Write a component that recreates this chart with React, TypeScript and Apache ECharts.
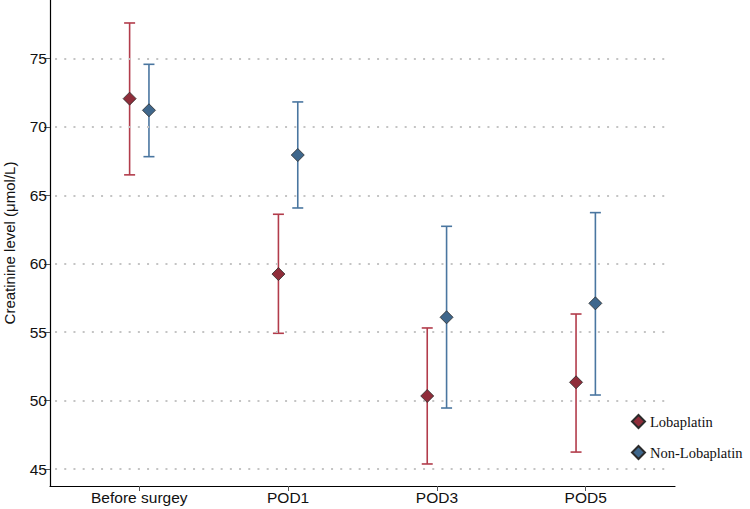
import React, { useEffect, useRef } from "react";
import * as echarts from "echarts";

const categories = ["Before surgey", "POD1", "POD3", "POD5"];
const lobMean = [72.07, 59.25, 50.34, 51.34];
const lobUpper = [77.6, 63.62, 55.31, 56.33];
const lobLower = [66.5, 54.92, 45.37, 46.24];
const nonMean = [71.22, 67.95, 56.09, 57.11];
const nonUpper = [74.58, 71.83, 62.74, 63.74];
const nonLower = [67.83, 64.08, 49.46, 50.41];
const yTicks = [45, 50, 55, 60, 65, 70, 75];

const OFFSET = 0.065;
const RED_LINE = "#b23c4b";
const RED_FILL = "#8f2d3a";
const BLUE_LINE = "#4a76a0";
const BLUE_FILL = "#3f678c";

function errorSeries(name: string, lower: number[], upper: number[], off: number, color: string) {
  return {
    type: "custom",
    name,
    z: 2,
    data: lower.map((lo, i) => [i + off, lo, upper[i]]),
    renderItem: (params: any, api: any) => {
      const x = api.value(0);
      const lo = api.coord([x, api.value(1)]);
      const hi = api.coord([x, api.value(2)]);
      const hw = 5.5;
      const style = { stroke: color, lineWidth: 1.6 };
      return {
        type: "group",
        children: [
          { type: "line", shape: { x1: lo[0], y1: lo[1], x2: hi[0], y2: hi[1] }, style },
          { type: "line", shape: { x1: hi[0] - hw, y1: hi[1], x2: hi[0] + hw, y2: hi[1] }, style },
          { type: "line", shape: { x1: lo[0] - hw, y1: lo[1], x2: lo[0] + hw, y2: lo[1] }, style },
        ],
      };
    },
  };
}

export default function App() {
  const ref = useRef<HTMLDivElement>(null);
  useEffect(() => {
    if (!ref.current) return;
    const chart = echarts.init(ref.current, null, { renderer: "svg" });
    const font = "Liberation Sans";
    chart.setOption({
      animation: false,
      backgroundColor: "#ffffff",
      grid: { left: 50, right: 75, top: 0, bottom: 23, containLabel: false, outerBoundsMode: "none" },
      legend: {
        orient: "vertical",
        left: 631,
        top: 414,
        padding: 0,
        itemWidth: 13,
        itemHeight: 13,
        itemGap: 16,
        icon: "diamond",
        data: ["Lobaplatin", "Non-Lobaplatin"],
        textStyle: { fontFamily: "Liberation Serif", fontSize: 14.5, color: "#111" },
      },
      xAxis: {
        type: "value",
        min: -0.6,
        max: 3.6,
        splitLine: { show: false },
        axisLine: { show: true, onZero: false, lineStyle: { color: "#000", width: 1.2 } },
        axisTick: { show: true, customValues: [0, 1, 2, 3], length: 5, lineStyle: { color: "#555" } },
        axisLabel: {
          customValues: [0, 1, 2, 3],
          formatter: (v: number) => categories[Math.round(v)],
          fontFamily: font,
          fontSize: 15.5,
          color: "#111",
          margin: 3,
        },
      },
      yAxis: {
        type: "value",
        min: 43.76,
        max: 79.28,
        name: "Creatinine level (μmol/L)",
        nameLocation: "middle",
        nameGap: 33,
        nameTextStyle: { fontFamily: font, fontSize: 15, color: "#111" },
        splitLine: { show: false },
        axisLine: { show: true, onZero: false, lineStyle: { color: "#000", width: 1.2 } },
        axisTick: { show: true, customValues: yTicks, length: 6, lineStyle: { color: "#555" } },
        axisLabel: {
          customValues: yTicks,
          fontFamily: font,
          fontSize: 15.5,
          color: "#111",
          margin: 3,
        },
      },
      series: [
        {
          type: "line",
          name: "grid",
          data: [],
          silent: true,
          markLine: {
            silent: true,
            symbol: "none",
            label: { show: false },
            lineStyle: { color: "#c4c4c4", width: 2, type: [2, 7.2] },
            data: yTicks.map((v) => [
              { coord: [-0.566, v] },
              { coord: [3.548, v] },
            ]),
          },
        },
        errorSeries("lobErr", lobLower, lobUpper, -OFFSET, RED_LINE),
        errorSeries("nonErr", nonLower, nonUpper, OFFSET, BLUE_LINE),
        {
          type: "scatter",
          name: "Lobaplatin",
          z: 5,
          symbol: "diamond",
          symbolSize: 13,
          itemStyle: { color: RED_FILL, borderColor: "#2b2b2b", borderWidth: 0.8, opacity: 1 },
          data: lobMean.map((v, i) => [i - OFFSET, v]),
        },
        {
          type: "scatter",
          name: "Non-Lobaplatin",
          z: 5,
          symbol: "diamond",
          symbolSize: 13,
          itemStyle: { color: BLUE_FILL, borderColor: "#2b2b2b", borderWidth: 0.8, opacity: 1 },
          data: nonMean.map((v, i) => [i + OFFSET, v]),
        },
      ],
    });
    return () => chart.dispose();
  }, []);
  return <div ref={ref} style={{ width: 750, height: 509, position: "absolute", left: 0, top: 0 }} />;
}
